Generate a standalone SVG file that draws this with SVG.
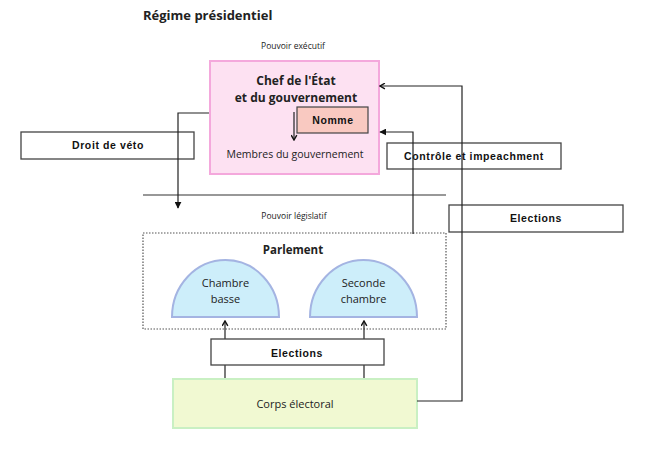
<svg xmlns="http://www.w3.org/2000/svg" width="650" height="449" viewBox="0 0 650 449">
<defs>
<style>
.h{font-family:"Open Sans","Noto Sans",sans-serif;fill:#222}
.b{font-family:"Liberation Sans",Arial,sans-serif;font-weight:bold;font-size:10.5px;letter-spacing:0.6px;fill:#111;text-anchor:middle}
.box{fill:#fff;stroke:#444;stroke-width:1.3}
.ln{fill:none;stroke:#222;stroke-width:1.2}
.dome{fill:#cdeefa;stroke:#a4b4e2;stroke-width:2}
</style>
<marker id="tri" viewBox="0 0 10 10" refX="9" refY="5" markerWidth="7" markerHeight="7" orient="auto" markerUnits="userSpaceOnUse"><path d="M0,0L10,5L0,10z" fill="#111"/></marker>
<marker id="chev" viewBox="0 0 10 10" refX="9" refY="5" markerWidth="7" markerHeight="7" orient="auto" markerUnits="userSpaceOnUse"><path d="M2,1L9,5L2,9" fill="none" stroke="#111" stroke-width="2"/></marker>
</defs>
<rect width="650" height="449" fill="#fff"/>
<text class="h" x="143" y="20" font-size="13" font-weight="bold">Régime présidentiel</text>
<text class="h" x="293" y="49" font-size="8.5" text-anchor="middle">Pouvoir exécutif</text>
<line x1="143" y1="195" x2="446" y2="195" stroke="#333" stroke-width="1.2"/>
<text class="h" x="294" y="219" font-size="8.5" text-anchor="middle">Pouvoir législatif</text>

<g id="executif">
<rect x="210" y="61" width="169" height="113" fill="#fde1f2" stroke="#f4a8dc" stroke-width="2"/>
<text class="h" x="296" y="85" font-size="12" font-weight="bold" text-anchor="middle">Chef de l'État</text>
<text class="h" x="296" y="102" font-size="12" font-weight="bold" text-anchor="middle">et du gouvernement</text>
<text class="h" x="295" y="158" font-size="10.5" text-anchor="middle">Membres du gouvernement</text>
</g>
<g id="nomme">
<rect x="297" y="107" width="71" height="26" fill="#f9c9c1" stroke="#444" stroke-width="1.2"/>
<text class="b" x="333" y="124">Nomme</text>
</g>
<g id="veto">
<rect class="box" x="21" y="132" width="173" height="27"/>
<text class="b" x="108" y="149">Droit de véto</text>
</g>
<g id="controle">
<rect class="box" x="387" y="143" width="174" height="26"/>
<text class="b" x="474" y="160">Contrôle et impeachment</text>
</g>
<g id="elections-exec">
<rect class="box" x="449" y="205" width="174" height="27"/>
<text class="b" x="536" y="222">Elections</text>
</g>
<g id="parlement">
<rect x="143" y="233" width="303" height="96" fill="none" stroke="#555" stroke-width="1.2" stroke-dasharray="1.5,1.5"/>
<text class="h" x="293" y="254" font-size="11.5" font-weight="bold" text-anchor="middle">Parlement</text>
</g>
<g id="chambre-basse">
<path class="dome" d="M172,317A53.5,57 0 0 1 279,317Z"/>
<text class="h" x="225.5" y="287" font-size="11" text-anchor="middle">Chambre</text>
<text class="h" x="225.5" y="303" font-size="11" text-anchor="middle">basse</text>
</g>
<g id="seconde-chambre">
<path class="dome" d="M310,317A53.5,57 0 0 1 417,317Z"/>
<text class="h" x="363.5" y="287" font-size="11" text-anchor="middle">Seconde</text>
<text class="h" x="363.5" y="303" font-size="11" text-anchor="middle">chambre</text>
</g>
<g id="corps">
<rect x="173" y="379" width="244" height="49" fill="#f1f9d2" stroke="#c9f0c3" stroke-width="2"/>
<text class="h" x="295" y="408" font-size="11" text-anchor="middle">Corps électoral</text>
</g>
<g id="connectors">
<path class="ln" d="M209,113H178V208" marker-end="url(#tri)"/>
<path class="ln" d="M294,112V140" marker-end="url(#chev)"/>
<path class="ln" d="M417,401H462V86H380" marker-end="url(#chev)"/>
<path class="ln" d="M413,234V132H380" marker-end="url(#tri)"/>
<path class="ln" d="M225,378V321" marker-end="url(#chev)"/>
<path class="ln" d="M364,378V321" marker-end="url(#chev)"/>
</g>
<g id="elections-leg">
<rect class="box" x="211" y="339" width="173" height="26"/>
<text class="b" x="297" y="357">Elections</text>
</g>
</svg>
